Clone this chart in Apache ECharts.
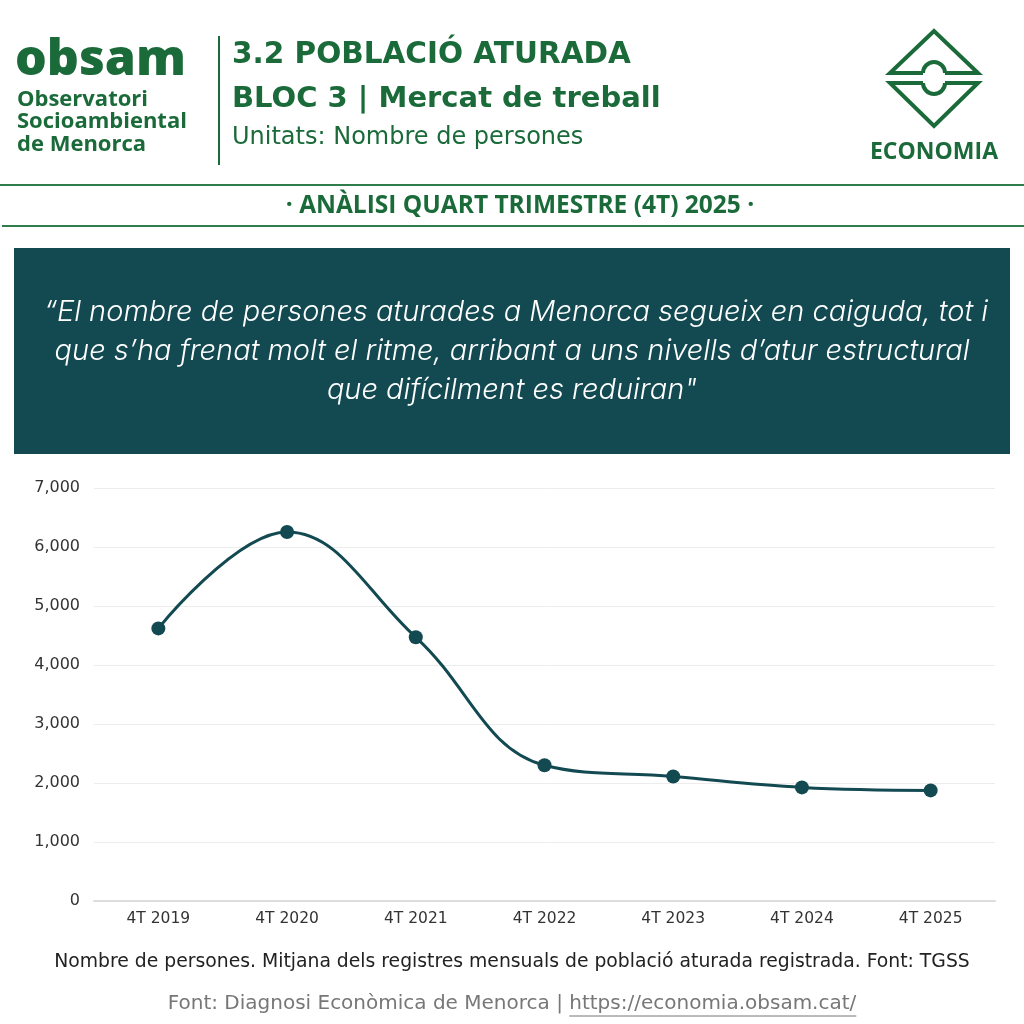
<!DOCTYPE html>
<html>
<head>
<meta charset="utf-8">
<script src="https://cdn.jsdelivr.net/npm/echarts@6/dist/echarts.min.js"></script>
<style>
html,body{margin:0;padding:0;background:#fff;}
#chart{width:1024px;height:1024px;}
</style>
</head>
<body>
<div id="chart"></div>
<script>
const categories = ['4T 2019','4T 2020','4T 2021','4T 2022','4T 2023','4T 2024','4T 2025'];
const aturats = [4620, 6255, 4470, 2300, 2110, 1925, 1875];
const yTicks = { min: 0, max: 7000, interval: 1000 };

const GREEN = '#1b6b3a';
const LINEGREEN = '#2e7d4a';
const TEAL = '#134a52';
const FONT = '"Open Sans", "Noto Sans", sans-serif';
const WIDE = '"DejaVu Sans", "Open Sans", sans-serif';
const QUOTE = 'Inter, "DejaVu Sans", sans-serif';

const chart = echarts.init(document.getElementById('chart'), null, {renderer:'canvas'});

function txt(x, y, text, font, fill, align) {
  return {type:'text', x:x, y:y, style:{text:text, font:font, fill:fill, align:align||'left', verticalAlign:'middle'}};
}

// measure footer to place the URL underline
const mctx = document.createElement('canvas').getContext('2d');
const footFont = '20px ' + WIDE;
mctx.font = footFont;
const footPre = 'Font: Diagnosi Econòmica de Menorca | ';
const footUrl = 'https://economia.obsam.cat/';
const wPre = mctx.measureText(footPre).width;
const wUrl = mctx.measureText(footUrl).width;
const footStart = 512 - (wPre + wUrl) / 2;

const graphics = [
  // header
  txt(15, 61, 'obsam', '800 50px '+FONT, GREEN),
  txt(17, 100, 'Observatori', 'bold 22px '+FONT, GREEN),
  txt(17, 122, 'Socioambiental', 'bold 22px '+FONT, GREEN),
  txt(17, 145, 'de Menorca', 'bold 22px '+FONT, GREEN),
  {type:'line', shape:{x1:219,y1:36,x2:219,y2:165}, style:{stroke:GREEN, lineWidth:2}},
  txt(232, 55, '3.2 POBLACIÓ ATURADA', 'bold 29.5px '+WIDE, GREEN),
  txt(232, 99, 'BLOC 3 | Mercat de treball', 'bold 29px '+WIDE, GREEN),
  txt(232, 138, 'Unitats: Nombre de persones', '24px '+WIDE, GREEN),
  // logo
  {type:'polyline', shape:{points:[[923,73],[890,73],[934,31],[978,73],[945,73]]}, style:{fill:null, stroke:GREEN, lineWidth:4}},
  {type:'arc', shape:{cx:934, cy:73, r:11, startAngle:Math.PI, endAngle:2*Math.PI, clockwise:true}, style:{fill:null, stroke:GREEN, lineWidth:4}},
  {type:'polyline', shape:{points:[[923,83],[890,83],[934,126],[978,83],[945,83]]}, style:{fill:null, stroke:GREEN, lineWidth:4}},
  {type:'arc', shape:{cx:934, cy:83, r:11, startAngle:0, endAngle:Math.PI, clockwise:true}, style:{fill:null, stroke:GREEN, lineWidth:4}},
  txt(934, 152, 'ECONOMIA', 'bold 23px '+FONT, GREEN, 'center'),
  // separators
  {type:'line', shape:{x1:0,y1:185,x2:1024,y2:185}, style:{stroke:LINEGREEN, lineWidth:2}},
  {type:'line', shape:{x1:2,y1:226,x2:1024,y2:226}, style:{stroke:LINEGREEN, lineWidth:2}},
  txt(520, 206, '· ANÀLISI QUART TRIMESTRE (4T) 2025 ·', 'bold 24.5px '+FONT, GREEN, 'center'),
  // quote box
  {type:'rect', shape:{x:14,y:248,width:996,height:206}, style:{fill:TEAL}},
  txt(516, 312, '“El nombre de persones aturades a Menorca segueix en caiguda, tot i', 'italic 300 29px '+QUOTE, '#ffffff', 'center'),
  txt(512, 351, 'que s’ha frenat molt el ritme, arribant a uns nivells d’atur estructural', 'italic 300 29px '+QUOTE, '#ffffff', 'center'),
  txt(512, 390, 'que difícilment es reduiran"', 'italic 300 29px '+QUOTE, '#ffffff', 'center'),
  // footer
  txt(512, 962, 'Nombre de persones. Mitjana dels registres mensuals de població aturada registrada. Font: TGSS', '18.8px '+WIDE, '#222222', 'center'),
  txt(footStart, 1004, footPre + footUrl, footFont, '#777777', 'left'),
  {type:'line', shape:{x1:footStart + wPre, y1:1016, x2:footStart + wPre + wUrl, y2:1016}, style:{stroke:'#777777', lineWidth:1}}
];

chart.setOption({
  animation:false,
  backgroundColor:'#ffffff',
  grid:{left:94, right:29, top:488, bottom:123, containLabel:false},
  xAxis:{
    type:'category', data:categories, boundaryGap:true,
    axisLine:{show:true, lineStyle:{color:'#dddddd', width:2}},
    axisTick:{show:false},
    axisLabel:{color:'#333333', fontSize:15.5, fontFamily:WIDE, margin:10}
  },
  yAxis:{
    type:'value', min:yTicks.min, max:yTicks.max, interval:yTicks.interval,
    axisLine:{show:false}, axisTick:{show:false},
    splitLine:{lineStyle:{color:'#ececec', width:1}},
    axisLabel:{color:'#333333', fontSize:16, fontFamily:WIDE, margin:14,
      formatter:v=>v.toLocaleString('en-US')}
  },
  series:[{
    type:'line', data:aturats, smooth:0.4,
    symbol:'circle', symbolSize:14,
    lineStyle:{color:TEAL, width:3},
    itemStyle:{color:TEAL}
  }],
  graphic:graphics
});
</script>
</body>
</html>
